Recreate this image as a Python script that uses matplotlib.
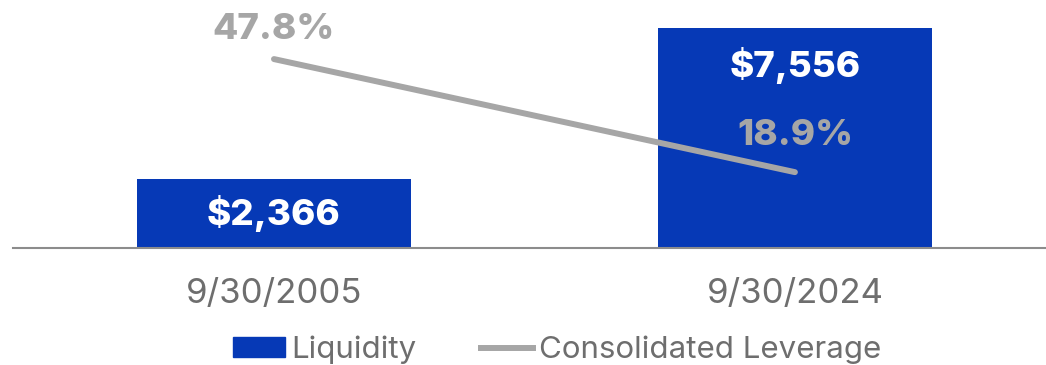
import matplotlib
matplotlib.use("Agg")
import matplotlib.pyplot as plt
from matplotlib.patches import Patch
from matplotlib.lines import Line2D

categories = ["9/30/2005", "9/30/2024"]
liquidity = [2366, 7556]
leverage = [47.8, 18.9]
liquidity_labels = ["$2,366", "$7,556"]
leverage_labels = ["47.8%", "18.9%"]

BLUE = "#0639B6"
GREY = "#A6A6A6"
TXT = "#6E6E6E"
FONT = "Inter"

W, H = 1046, 365
fig = plt.figure(figsize=(W / 100, H / 100), dpi=100)
ax = fig.add_axes([13 / W, 117.5 / H, 1 - 13 / W, 247.5 / H])
ax2 = ax.twinx()

x = list(range(len(categories)))
ax.bar(x, liquidity, width=0.526, color=BLUE, zorder=2)
ax.set_xlim(-0.501, 1.482)
ax.set_ylim(0, 8534)
ax2.set_ylim(-0.36, 62.9)

ax2.plot(x, leverage, color=GREY, lw=4.3, solid_capstyle="round", zorder=3)

for a in (ax, ax2):
    for s in ("top", "right", "left"):
        a.spines[s].set_visible(False)
    a.set_yticks([])
ax.spines["bottom"].set_color("#8C8C8C")
ax.spines["bottom"].set_linewidth(1.5)
ax2.spines["bottom"].set_visible(False)

ax.set_xticks(x)
ax.set_xticklabels(categories, fontsize=25, color=TXT, family=FONT)
ax.tick_params(axis="x", length=0, pad=22)

bold = dict(family=FONT, fontweight="heavy", fontsize=26.5)
ax.annotate(liquidity_labels[0], (x[0], liquidity[0] / 2), ha="center", va="center",
            color="white", **bold)
ax.annotate(liquidity_labels[1], (x[1], liquidity[1]), xytext=(0, -37),
            textcoords="offset pixels", ha="center", va="center", color="white", **bold)
ax2.annotate(leverage_labels[0], (x[0], leverage[0]), xytext=(0, 30),
             textcoords="offset pixels", ha="center", va="center", color=GREY, **bold)
ax2.annotate(leverage_labels[1], (x[1], leverage[1]), xytext=(0, 37),
             textcoords="offset pixels", ha="center", va="center", color=GREY, **bold)

handles = [Patch(color=BLUE, label="Liquidity"),
           Line2D([], [], color=GREY, lw=4.3, label="Consolidated Leverage")]
fig.legend(handles=handles, loc="center", bbox_to_anchor=(557 / W, 1 - 350 / H),
           ncol=2, frameon=False, prop=dict(family=FONT, size=22.5),
           labelcolor=TXT, handlelength=1.67, handleheight=0.62, handletextpad=0.2,
           columnspacing=2.06, borderaxespad=0, borderpad=0)

fig.savefig("out.png", dpi=100)
